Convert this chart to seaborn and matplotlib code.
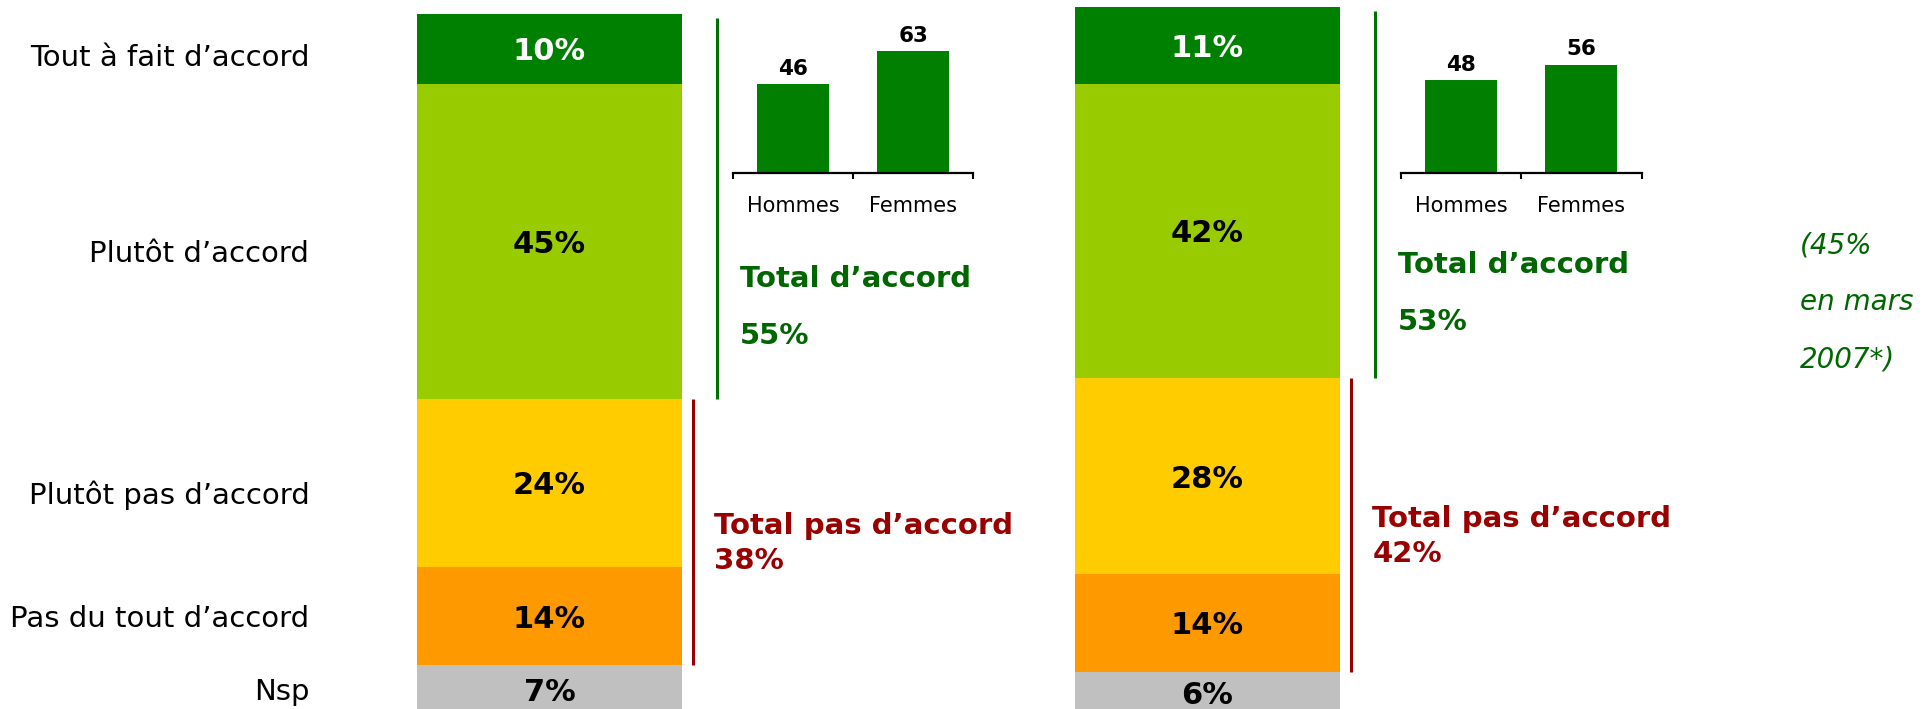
import numpy as np
import pandas as pd
import matplotlib.pyplot as plt
import seaborn as sns

sns.set_style("white")
plt.rcParams['font.family'] = 'DejaVu Sans'

# data
categories = ["Tout à fait d’accord", "Plutôt d’accord", "Plutôt pas d’accord",
              "Pas du tout d’accord", "Nsp"]
vague_1 = [10, 45, 24, 14, 7]
vague_2 = [11, 42, 28, 14, 6]
sexe = ["Hommes", "Femmes"]
accord_sexe_1 = [46, 63]
accord_sexe_2 = [48, 56]
total_accord = [55, 53]
total_pas_accord = [38, 42]
rappel = ["(45%", "en mars", "2007*)"]

seg_colors = ["#008000", "#99CC00", "#FFCC00", "#FF9900", "#C0C0C0"]
txt_colors = ["white", "black", "black", "black", "black"]
label_nudge_px = [6, 9, 9.5, 0, 0]  # category labels sit a bit below segment centres
GREEN_TXT = "#006600"
GREEN_LINE = "#007000"
RED = "#990000"

panels = ["vague_1", "vague_2"]
series = [vague_1, vague_2]

# stacked bars drawn as overlapping cumulative bars (tallest first)
rows = []
for p, vals in zip(panels, series):
    for i, c in enumerate(categories):
        rows.append({"panel": p, "categorie": c, "top": sum(vals[i:])})
df = pd.DataFrame(rows)

W, H = 1923, 709
fig = plt.figure(figsize=(W / 100, H / 100), dpi=100)
ax = fig.add_axes([0, 0, 1, 1])

unit = 658.0  # px between the two bars
ypx = 7.0     # px per percentage point
sns.barplot(data=df, x="panel", y="top", hue="categorie", hue_order=categories,
            palette=dict(zip(categories, seg_colors)), dodge=False,
            width=265 / unit, saturation=1, linewidth=0, legend=False, ax=ax)
ax.set_xlim(-549.5 / unit, (W - 549.5) / unit)
ax.set_ylim(5 / ypx, 5 / ypx + H / ypx)
ax.axis("off")

for k, vals in enumerate(series):
    # percentages inside the segments
    for i, v in enumerate(vals):
        yc = sum(vals[i + 1:]) + v / 2
        ax.text(k, yc, f"{v}%", ha="center", va="center_baseline",
                fontsize=22, fontweight="bold", color=txt_colors[i])

    agree_lo, agree_hi = sum(vals[2:]), sum(vals)
    dis_lo, dis_hi = vals[4], sum(vals[2:])
    # brackets
    ax.plot([k + 167.5 / unit] * 2, [agree_lo, agree_hi - 0.5], color=GREEN_LINE, lw=2.2,
            solid_capstyle="butt")
    ax.plot([k + 143.5 / unit] * 2, [dis_lo, dis_hi], color=RED, lw=2.2,
            solid_capstyle="butt")
    # totals
    amid = (agree_lo + agree_hi) / 2
    ax.text(k + 190 / unit, amid - 9.9, "Total d’accord", ha="left", va="center_baseline",
            fontsize=21, fontweight="bold", color=GREEN_TXT)
    ax.text(k + 190 / unit, amid - 18.0, f"{total_accord[k]}%", ha="left",
            va="center_baseline", fontsize=21, fontweight="bold", color=GREEN_TXT)
    dmid = (dis_lo + dis_hi) / 2
    ax.text(k + 165 / unit, dmid + 1.3, "Total pas d’accord", ha="left", va="center_baseline",
            fontsize=21, fontweight="bold", color=RED)
    ax.text(k + 165 / unit, dmid - 3.7, f"{total_pas_accord[k]}%", ha="left",
            va="center_baseline", fontsize=21, fontweight="bold", color=RED)

# category labels on the left
for i, c in enumerate(categories):
    yc = sum(vague_1[i + 1:]) + vague_1[i] / 2 - label_nudge_px[i] / ypx
    ax.text(-0.365, yc, c, ha="right", va="center_baseline", fontsize=21, color="black")

# small bar charts Hommes / Femmes
inset_h = 155.0
for x0, vals in [(732.7, accord_sexe_1), (1401.0, accord_sexe_2)]:
    iax = fig.add_axes([x0 / W, (H - 173.3) / H, 240.5 / W, inset_h / H])
    sns.barplot(x=sexe, y=vals, color="#007F00", width=0.6, saturation=1,
                linewidth=0, ax=iax)
    iax.set_xlim(-0.5, 1.5)
    iax.set_ylim(0, inset_h / 1.94)
    iax.bar_label(iax.containers[0], fmt="%g", padding=4, fontsize=15.5,
                  fontweight="bold", color="black")
    for s in ["top", "left", "right"]:
        iax.spines[s].set_visible(False)
    iax.spines["bottom"].set_linewidth(1.6)
    iax.spines["bottom"].set_color("black")
    iax.set_xticks([-0.5, 0.5, 1.5], minor=True)
    iax.tick_params(axis="x", which="minor", length=4.5, width=1.5, direction="out",
                    color="black", bottom=True)
    iax.tick_params(axis="x", which="major", length=0, pad=16, labelsize=15,
                    labelcolor="black")
    iax.set_yticks([])
    iax.set_xlabel("")
    iax.set_ylabel("")
    iax.patch.set_alpha(0)

# reminder of March 2007
for j, line in enumerate(rappel):
    fig.text(1800 / W, 1 - (253.3 + 57 * j) / H, line, ha="left", va="baseline",
             fontsize=20, style="italic", color=GREEN_TXT)

fig.savefig("out.png", dpi=100)
